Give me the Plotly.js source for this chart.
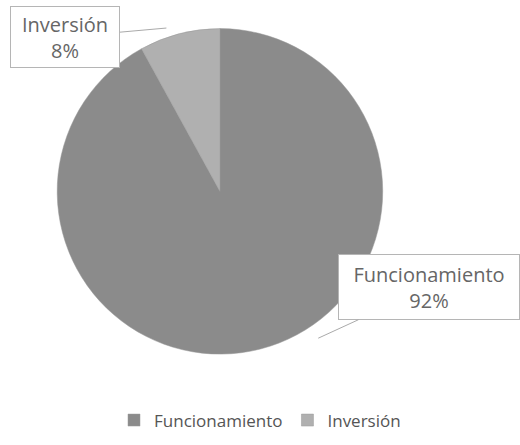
<!DOCTYPE html>
<html>
<head>
<meta charset="utf-8">
<script src="https://cdn.plot.ly/plotly-3.0.1.min.js"></script>
<style>
  html, body { margin: 0; padding: 0; background: white; }
  #chart { width: 520px; height: 445px; }
</style>
</head>
<body>
<div id="chart"></div>
<script>
// Distribución del gasto
const categories = ['Funcionamiento', 'Inversión'];
const values = [92, 8];
const sliceColors = ['#8b8b8b', '#b0b0b0'];

const total = values.reduce((a, b) => a + b, 0);
const pct = values.map(v => Math.round(v / total * 100) + '%');

const labelFont = { family: '"Open Sans", sans-serif', size: 20, color: '#666' };

// callout boxes: arrow tip (paper), box offset and size in px
const callouts = [
    { i: 0, x: 0.612, y: 0.24, ax: 111, ay: -51, w: 172, h: 56 },
    { i: 1, x: 0.32, y: 0.937, ax: -101, ay: 9, w: 100, h: 52 }
];

const layout = {
    width: 520,
    height: 445,
    margin: { l: 0, r: 0, t: 0, b: 0 },
    paper_bgcolor: 'white',
    plot_bgcolor: 'white',
    font: { family: '"Open Sans", sans-serif', color: '#666' },
    showlegend: true,
    legend: {
        orientation: 'h',
        x: 0.5, xanchor: 'center',
        y: 0.055, yanchor: 'middle',
        font: { size: 17, color: '#555' },
        itemwidth: 30,
        traceorder: 'normal'
    },
    annotations: callouts.map(c => ({
        xref: 'paper', yref: 'paper',
        x: c.x, y: c.y,
        ax: c.ax, ay: c.ay,
        width: c.w, height: c.h,
        text: categories[c.i] + '<br>' + pct[c.i],
        font: labelFont,
        showarrow: true,
        arrowhead: 0,
        arrowwidth: 1,
        arrowcolor: '#aaa',
        bgcolor: 'white',
        bordercolor: '#b5b5b5',
        borderwidth: 1,
        borderpad: 4,
        align: 'center'
    }))
};

Plotly.newPlot('chart', [{
    type: 'pie',
    labels: categories,
    values: values,
    sort: false,
    direction: 'clockwise',
    rotation: 0,
    textinfo: 'none',
    hoverinfo: 'label+percent',
    marker: { colors: sliceColors, line: { color: '#999', width: 0.5 } },
    domain: { x: [0.11, 0.736], y: [0.192, 0.948] }
}], layout, { displayModeBar: false, responsive: false });
</script>
</body>
</html>
